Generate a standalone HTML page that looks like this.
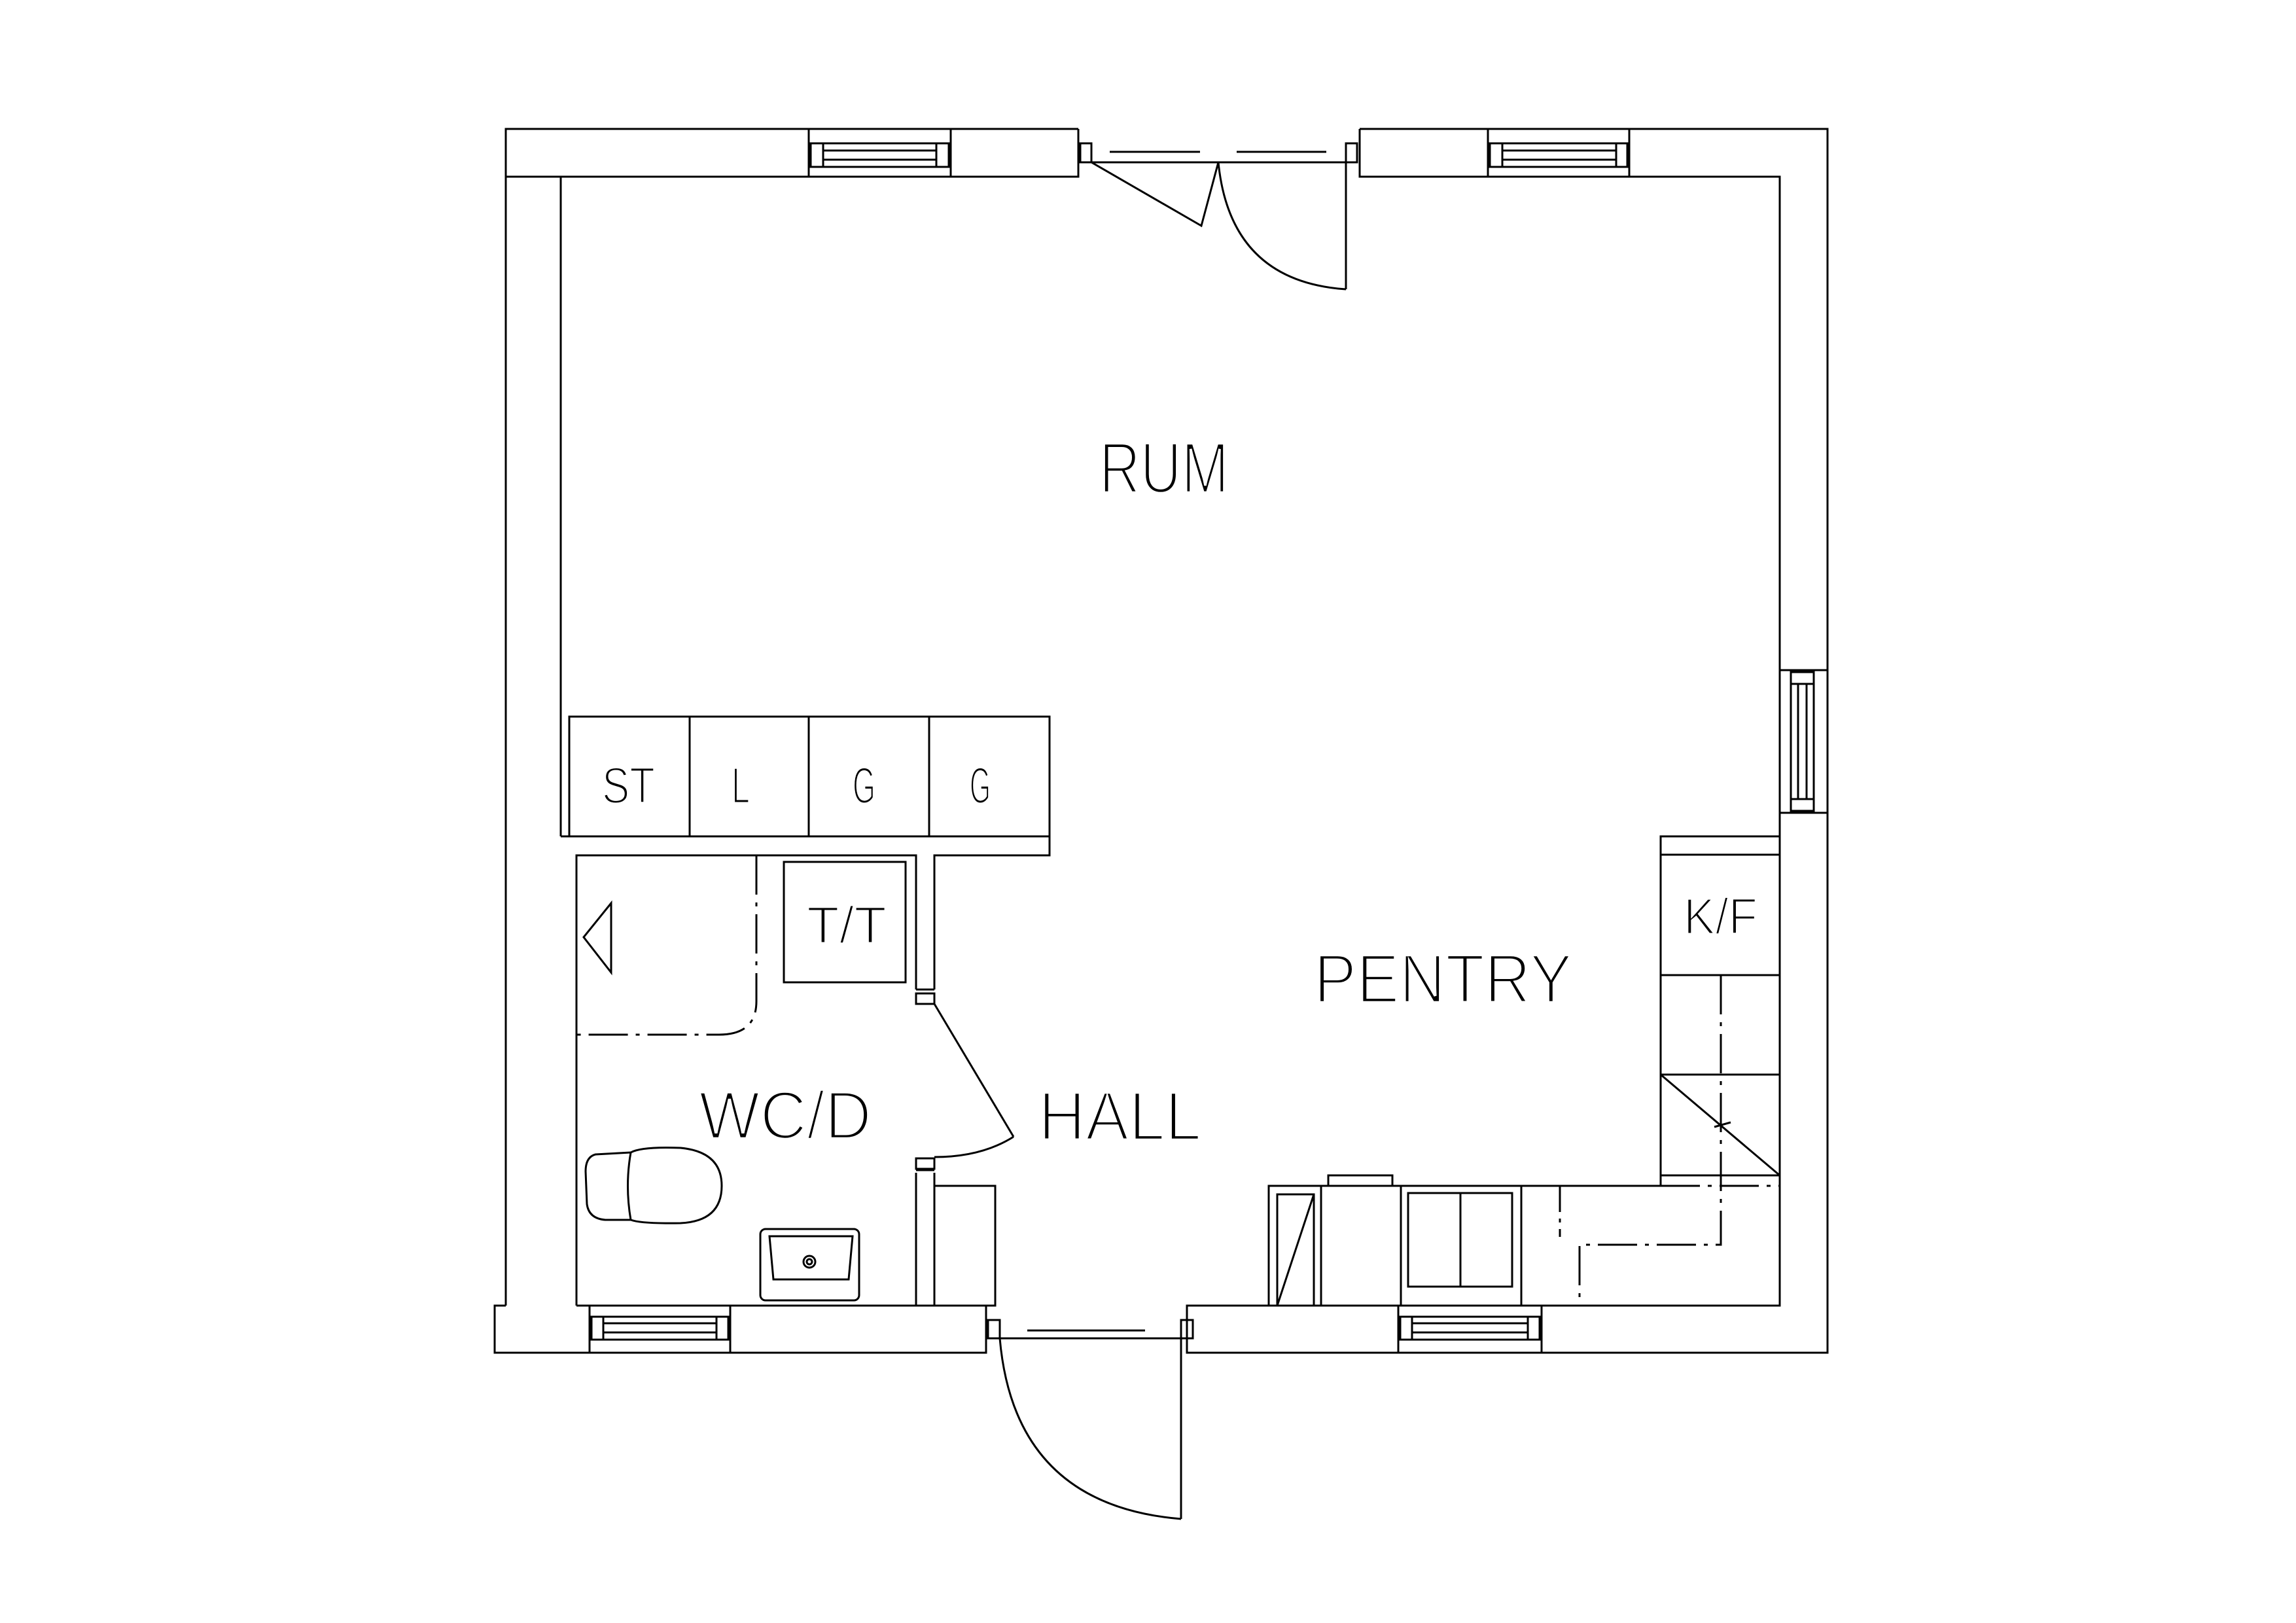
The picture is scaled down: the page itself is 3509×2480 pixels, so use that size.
<!DOCTYPE html>
<html><head><meta charset="utf-8"><style>html,body{margin:0;padding:0;background:#fff}svg{display:block}</style></head>
<body>
<svg width="3509" height="2480" viewBox="0 0 3509 2480" xmlns="http://www.w3.org/2000/svg">
<rect width="3509" height="2480" fill="#fff"/>
<g fill="none" stroke="#000" stroke-width="3">
<!-- outer top wall -->
<polyline points="1648,197 773,197 773,1995"/>
<polyline points="2078,197 2793,197 2793,2067 1814,2067 1814,1995 2720,1995 2720,270 2078,270 2078,197"/>
<polyline points="1648,197 1648,270 773,270"/>
<line x1="857" y1="270" x2="857" y2="1278"/>
<!-- top windows -->
<rect x="1236" y="197" width="217" height="73"/>
<rect x="1239" y="219" width="211" height="36"/>
<line x1="1258" y1="219" x2="1258" y2="255"/><line x1="1431" y1="219" x2="1431" y2="255"/>
<line x1="1258" y1="230" x2="1431" y2="230"/><line x1="1258" y1="244" x2="1431" y2="244"/>
<rect x="2274" y="197" width="216" height="73"/>
<rect x="2277" y="219" width="210" height="36"/>
<line x1="2296" y1="219" x2="2296" y2="255"/><line x1="2470" y1="219" x2="2470" y2="255"/>
<line x1="2296" y1="230" x2="2470" y2="230"/><line x1="2296" y1="244" x2="2470" y2="244"/>
<!-- top door -->
<rect x="1651" y="219" width="17" height="29"/>
<rect x="2057" y="219" width="17" height="29"/>
<line x1="1668" y1="248" x2="2057" y2="248"/>
<line x1="1696" y1="232" x2="1834" y2="232"/><line x1="1890" y1="232" x2="2027" y2="232"/>
<polyline points="1668,248 1836,345 1862,248"/>
<path d="M1862,248 Q1880,430 2057,442"/>
<line x1="2057" y1="248" x2="2057" y2="442"/>
<!-- right window -->
<line x1="2720" y1="1024" x2="2793" y2="1024"/><line x1="2720" y1="1242" x2="2793" y2="1242"/>
<rect x="2737" y="1027" width="35" height="212"/>
<line x1="2737" y1="1045" x2="2772" y2="1045"/><line x1="2737" y1="1221" x2="2772" y2="1221"/>
<line x1="2748" y1="1045" x2="2748" y2="1221"/><line x1="2761" y1="1045" x2="2761" y2="1221"/>
<!-- cabinets -->
<rect x="870" y="1095" width="734" height="183"/>
<line x1="1054" y1="1095" x2="1054" y2="1278"/><line x1="1236" y1="1095" x2="1236" y2="1278"/><line x1="1420" y1="1095" x2="1420" y2="1278"/>
<line x1="857" y1="1278" x2="870" y2="1278"/>
<!-- WC walls -->
<polyline points="881,1995 881,1307 1400,1307 1400,1512"/>
<polyline points="1604,1278 1604,1307 1428,1307 1428,1512"/>
<line x1="1400" y1="1512" x2="1428" y2="1512"/>
<rect x="1400" y="1518" width="28" height="16"/>
<rect x="1400" y="1770" width="28" height="16"/>
<line x1="1400" y1="1788" x2="1428" y2="1788"/>
<line x1="1400" y1="1792" x2="1400" y2="1995"/><line x1="1428" y1="1792" x2="1428" y2="1995"/>
<polyline points="1428,1534 1549,1737"/>
<path d="M1549,1737 Q1500,1768 1428,1768"/>
<rect x="1428" y="1812" width="93" height="183"/>
<!-- bottom wall -->
<polyline points="773,1995 756,1995 756,2067 1507,2067 1507,1995 1400,1995"/>
<line x1="881" y1="1995" x2="1400" y2="1995"/>
<rect x="901" y="1995" width="215" height="72"/>
<rect x="904" y="2012" width="209" height="35"/>
<line x1="922" y1="2012" x2="922" y2="2047"/><line x1="1095" y1="2012" x2="1095" y2="2047"/>
<line x1="922" y1="2022" x2="1095" y2="2022"/><line x1="922" y1="2036" x2="1095" y2="2036"/>
<rect x="2137" y="1995" width="219" height="72"/>
<rect x="2140" y="2012" width="213" height="35"/>
<line x1="2158" y1="2012" x2="2158" y2="2047"/><line x1="2335" y1="2012" x2="2335" y2="2047"/>
<line x1="2158" y1="2022" x2="2335" y2="2022"/><line x1="2158" y1="2036" x2="2335" y2="2036"/>
<!-- bottom door -->
<rect x="1510" y="2017" width="18" height="28"/>
<rect x="1805" y="2017" width="18" height="28"/>
<line x1="1528" y1="2045" x2="1805" y2="2045"/>
<line x1="1570" y1="2033" x2="1750" y2="2033"/>
<line x1="1805" y1="2045" x2="1805" y2="2321"/>
<path d="M1528,2045 Q1550,2300 1805,2321"/>
<!-- shower -->
<path d="M1156,1307 V1530 Q1156,1581 1099,1581 H881" stroke-dasharray="60,12,6,12"/>
<polygon points="934,1380 892,1432 934,1486"/>
<rect x="1198" y="1317" width="186" height="184"/>
<!-- toilet -->
<path d="M964,1761 L910,1764 Q895,1768 895,1790 L897,1840 Q900,1862 925,1864 L964,1864"/>
<path d="M964,1761 Q980,1752 1040,1754 Q1103,1760 1103,1812 Q1103,1866 1040,1869 Q980,1870 964,1864 Q955,1812 964,1761"/>
<!-- sink -->
<rect x="1162" y="1878" width="151" height="109" rx="8"/>
<path d="M1176,1889 H1303 L1297,1955 H1182 Z"/>
<circle cx="1237" cy="1928" r="9"/><circle cx="1237" cy="1928" r="4"/>
<!-- kitchen right -->
<polyline points="2538,1812 2538,1278 2720,1278"/>
<line x1="2538" y1="1306" x2="2720" y2="1306"/>
<line x1="2538" y1="1490" x2="2720" y2="1490"/>
<line x1="2538" y1="1642" x2="2720" y2="1642"/>
<line x1="2538" y1="1796" x2="2720" y2="1796"/>
<line x1="2538" y1="1642" x2="2720" y2="1796"/>
<line x1="2620" y1="1722" x2="2645" y2="1715"/>
<path d="M2630,1490 V1902 H2414 V1995" stroke-dasharray="60,12,6,12"/>
<line x1="2538" y1="1812" x2="2720" y2="1812" stroke-dasharray="60,12,6,12"/>
<!-- bottom counter -->
<polyline points="1939,1995 1939,1812 2538,1812"/>
<line x1="2019" y1="1812" x2="2019" y2="1995"/>
<line x1="2141" y1="1812" x2="2141" y2="1995"/>
<line x1="2325" y1="1812" x2="2325" y2="1995"/>
<line x1="2384" y1="1812" x2="2384" y2="1890" stroke-dasharray="40,10,6,10"/>
<rect x="1952" y="1825" width="56" height="170"/>
<line x1="1952" y1="1995" x2="2008" y2="1825"/>
<rect x="2030" y="1796" width="98" height="16"/>
<rect x="2152" y="1823" width="159" height="143"/>
<line x1="2232" y1="1823" x2="2232" y2="1966"/>
</g>
<g font-family="'Liberation Sans Narrow','Liberation Sans',sans-serif" fill="#000" stroke="#fff" stroke-width="4.5">
<text x="1680" y="753" font-size="110" textLength="198" lengthAdjust="spacingAndGlyphs">RUM</text>
<text x="920" y="1227" font-size="78" textLength="81" lengthAdjust="spacingAndGlyphs" stroke-width="3">ST</text>
<text x="1118" y="1227" font-size="78" textLength="28" lengthAdjust="spacingAndGlyphs" stroke-width="3">L</text>
<text x="1303" y="1227" font-size="78" textLength="35" lengthAdjust="spacingAndGlyphs" stroke-width="3">G</text>
<text x="1482" y="1227" font-size="78" textLength="32" lengthAdjust="spacingAndGlyphs" stroke-width="3">G</text>
<text x="1233" y="1441" font-size="80" textLength="122" lengthAdjust="spacingAndGlyphs" stroke-width="3">T/T</text>
<text x="2573" y="1427" font-size="78" textLength="113" lengthAdjust="spacingAndGlyphs" stroke-width="3">K/F</text>
<text x="2008" y="1532" font-size="106" textLength="395" lengthAdjust="spacingAndGlyphs">PENTRY</text>
<text x="1068" y="1740" font-size="104" textLength="264" lengthAdjust="spacingAndGlyphs">WC/D</text>
<text x="1587" y="1742" font-size="106" textLength="249" lengthAdjust="spacingAndGlyphs">HALL</text>
</g>
</svg>
</body></html>
